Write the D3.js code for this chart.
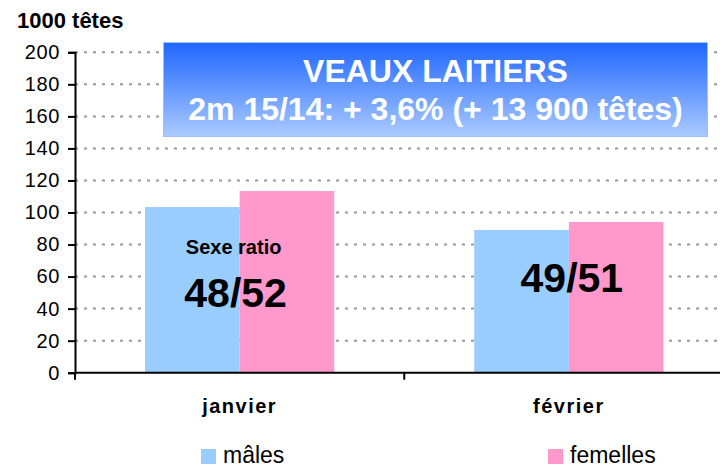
<!DOCTYPE html>
<html lang="fr">
<head>
<meta charset="utf-8">
<title>Veaux laitiers</title>
<style>
  body { margin: 0; background: #fff; }
  svg { display: block; font-family: "Liberation Sans", Arial, sans-serif; }
</style>
</head>
<body>
<script src="https://cdn.jsdelivr.net/npm/d3@7"></script>
<script>
// data
var months = ["janvier", "février"];
var series = ["mâles", "femelles"];
var males = [103.4, 89.1];
var females = [113.4, 94.1];
var ratios = ["48/52", "49/51"];
var yTicks = [0, 20, 40, 60, 80, 100, 120, 140, 160, 180, 200];
var colors = ["#99ccff", "#ff99cc"];

// layout
var width = 720, height = 468;
var left = 75, top_y = 52.3, bottom_y = 372.7, right = 733.5;

var svg = d3.select("body").append("svg")
  .attr("width", width).attr("height", height);

var x0 = d3.scaleBand().domain(months).range([left, right]).padding(0);
var x1 = d3.scaleBand().domain(series).range([0, x0.bandwidth()])
  .paddingInner(0).paddingOuter(0.74);
var y = d3.scaleLinear().domain([0, 200]).range([bottom_y, top_y]);

// grid lines (dashed)
svg.append("g").selectAll("line")
  .data(yTicks.filter(function (d) { return d > 0; }))
  .enter().append("line")
  .attr("x1", left).attr("x2", width - 3)
  .attr("y1", function (d) { return y(d); })
  .attr("y2", function (d) { return y(d); })
  .attr("stroke", "#999")
  .attr("stroke-width", 2)
  .attr("stroke-dasharray", "3,6");

// bars
var rows = months.map(function (m, i) { return { month: m, values: [males[i], females[i]] }; });
var groups = svg.append("g").selectAll("g")
  .data(rows).enter().append("g")
  .attr("transform", function (d) { return "translate(" + x0(d.month) + ",0)"; });
groups.selectAll("rect")
  .data(function (d) { return d.values.map(function (v, k) { return { s: series[k], v: v, k: k }; }); })
  .enter().append("rect")
  .attr("x", function (d) { return x1(d.s); })
  .attr("width", x1.bandwidth())
  .attr("y", function (d) { return y(d.v); })
  .attr("height", function (d) { return y(0) - y(d.v); })
  .attr("fill", function (d) { return colors[d.k]; });

// y axis
var yAxis = d3.axisLeft(y).tickValues(yTicks).tickSize(7).tickPadding(8);
var gy = svg.append("g").attr("transform", "translate(" + left + ",0)").call(yAxis);
gy.select(".domain").attr("stroke", "#000").attr("stroke-width", 2);
gy.selectAll(".tick line").attr("stroke", "#000").attr("stroke-width", 2);
gy.selectAll(".tick text").attr("fill", "#000")
  .style("font-size", "20px").style("letter-spacing", "0.6px")
  .style("font-family", "'Liberation Sans', Arial, sans-serif");

// x axis
svg.append("line")
  .attr("x1", left).attr("x2", width)
  .attr("y1", y(0)).attr("y2", y(0))
  .attr("stroke", "#000").attr("stroke-width", 2);
var bounds = months.map(function (m) { return x0(m); }).concat([right]);
svg.append("g").selectAll("line").data(bounds).enter().append("line")
  .attr("x1", function (d) { return d; }).attr("x2", function (d) { return d; })
  .attr("y1", y(0)).attr("y2", y(0) + 7)
  .attr("stroke", "#000").attr("stroke-width", 2);

svg.append("g").selectAll("text").data(months).enter().append("text")
  .attr("x", function (d) { return x0(d) + x0.bandwidth() / 2; })
  .attr("y", 413)
  .attr("text-anchor", "middle")
  .style("font-size", "20px").style("font-weight", "bold")
  .style("letter-spacing", "1.5px")
  .text(function (d) { return d; });

// unit label
svg.append("text")
  .attr("x", 17).attr("y", 28)
  .style("font-size", "22px").style("font-weight", "bold")
  .text("1000 têtes");

// ratio annotations
svg.append("text")
  .attr("x", x0(months[0]) + x0.bandwidth() / 2 - 6)
  .attr("y", y(74))
  .attr("text-anchor", "middle")
  .style("font-size", "20px").style("font-weight", "bold")
  .text("Sexe ratio");
var ratioY = [41, 50.5];
var ratioDx = [-4, 3];
svg.append("g").selectAll("text").data(ratios).enter().append("text")
  .attr("x", function (d, i) { return x0(months[i]) + x0.bandwidth() / 2 + ratioDx[i]; })
  .attr("y", function (d, i) { return y(ratioY[i]); })
  .attr("text-anchor", "middle")
  .style("font-size", "41px").style("font-weight", "bold")
  .text(function (d) { return d; });

// title box
var defs = svg.append("defs");
var grad = defs.append("linearGradient").attr("id", "tg")
  .attr("x1", 0).attr("y1", 0).attr("x2", 0).attr("y2", 1);
grad.append("stop").attr("offset", "0%").attr("stop-color", "#1f66ff");
grad.append("stop").attr("offset", "100%").attr("stop-color", "#aacaff");

svg.append("rect")
  .attr("x", 163.5).attr("y", 42.5)
  .attr("width", 544).attr("height", 94)
  .attr("fill", "url(#tg)")
  .attr("stroke", "#9cc0ff").attr("stroke-width", 1);
svg.append("text")
  .attr("x", 435.5).attr("y", 82)
  .attr("text-anchor", "middle").attr("fill", "#fff")
  .style("font-size", "32px").style("font-weight", "bold")
  .text("VEAUX LAITIERS");
svg.append("text")
  .attr("x", 435.5).attr("y", 120)
  .attr("text-anchor", "middle").attr("fill", "#fff")
  .style("font-size", "32px").style("font-weight", "bold")
  .text("2m 15/14: + 3,6% (+ 13 900 têtes)");

// legend
var legendX = [201, 548];
var leg = svg.append("g").selectAll("g").data(series).enter().append("g")
  .attr("transform", function (d, i) { return "translate(" + legendX[i] + ",449)"; });
leg.append("rect").attr("width", 15).attr("height", 15)
  .attr("fill", function (d, i) { return colors[i]; });
leg.append("text").attr("x", 22).attr("y", 14)
  .style("font-size", "23px")
  .text(function (d) { return d; });
</script>
</body>
</html>
